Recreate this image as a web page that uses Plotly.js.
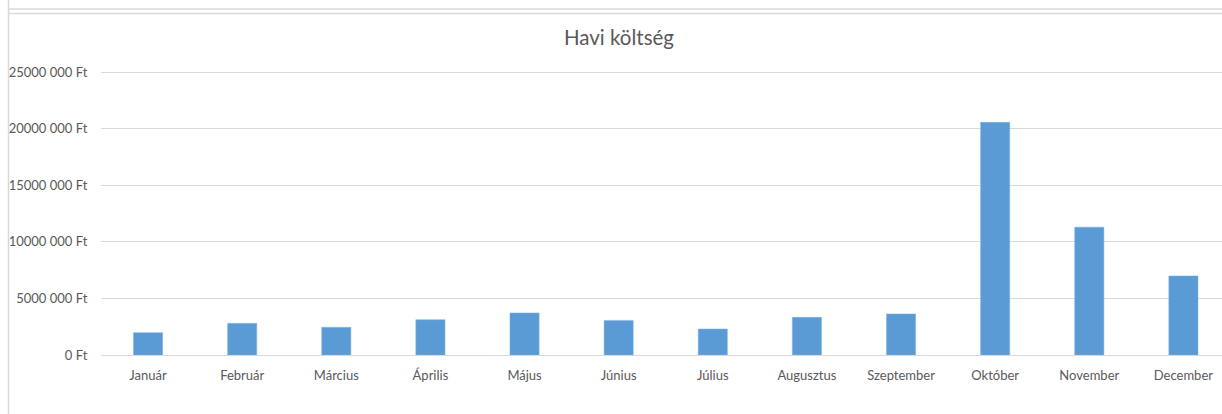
<!DOCTYPE html>
<html>
<head>
<meta charset="utf-8">
<script src="https://cdn.plot.ly/plotly-3.0.1.min.js"></script>
<style>
  html, body { margin: 0; padding: 0; background: #fff; }
  #chart { width: 1222px; height: 414px; }
</style>
</head>
<body>
<div id="chart"></div>
<script>
// Months and monthly cost (Ft)
var months = ['Január', 'Február', 'Március', 'Április', 'Május', 'Június',
              'Július', 'Augusztus', 'Szeptember', 'Október', 'November', 'December'];
var costs = [1970000, 2800000, 2450000, 3120000, 3720000, 3060000,
             2300000, 3330000, 3630000, 20560000, 11300000, 6990000];

// Y axis ticks, Excel style labels
var yTickVals = [0, 5000000, 10000000, 15000000, 20000000, 25000000];
var yTickText = ['0 Ft', '5000 000 Ft', '10000 000 Ft', '15000 000 Ft', '20000 000 Ft', '25000 000 Ft'];

var W = 1222, H = 414;
var mL = 101, mR = 0, mT = 71, mB = 59;
var plotW = W - mL - mR, plotH = H - mT - mB;

// helpers: pixel -> paper coords (for the frame lines only)
function px(x) { return (x - mL) / plotW; }
function py(y) { return (H - mB - y) / plotH; }

var frameColor = '#d9d9d9';

var data = [{
  type: 'bar',
  x: months,
  y: costs,
  width: 0.31,
  marker: { color: '#5b9bd5', line: { color: '#7fb2e0', width: 0.5 } },
  hoverinfo: 'x+y'
}];

var layout = {
  width: W,
  height: H,
  margin: { l: mL, r: mR, t: mT, b: mB, pad: 0 },
  paper_bgcolor: '#ffffff',
  plot_bgcolor: '#ffffff',
  font: { family: 'Lato, "Liberation Sans", sans-serif', size: 13, color: '#595959' },
  showlegend: false,
  title: {
    text: 'Havi költség',
    font: { size: 20.5, color: '#595959' },
    xref: 'container', x: 619 / W, xanchor: 'center',
    yref: 'container', y: 1 - 38 / H, yanchor: 'middle'
  },
  xaxis: {
    range: [-0.5, 11.41],
    showgrid: false,
    zeroline: false,
    showline: false,
    ticks: 'outside',
    ticklen: 8,
    tickcolor: 'rgba(0,0,0,0)',
    tickfont: { size: 13, color: '#595959' }
  },
  yaxis: {
    range: [0, 25100000],
    tickvals: yTickVals,
    ticktext: yTickText,
    showgrid: true,
    gridcolor: '#d9d9d9',
    gridwidth: 1,
    zeroline: true,
    zerolinecolor: '#d9d9d9',
    zerolinewidth: 1,
    showline: false,
    ticks: 'outside',
    ticklen: 10,
    tickcolor: 'rgba(0,0,0,0)',
    tickfont: { size: 13, color: '#595959' }
  },
  shapes: [
    // left border of the chart frame
    { type: 'line', xref: 'paper', yref: 'paper', x0: px(8.5), x1: px(8.5), y0: py(0), y1: py(H),
      line: { color: frameColor, width: 1.5 } },
    // bottom edge of the chart above
    { type: 'line', xref: 'paper', yref: 'paper', x0: px(8), x1: px(W), y0: py(9), y1: py(9),
      line: { color: frameColor, width: 1.5 } },
    // top edge of this chart
    { type: 'line', xref: 'paper', yref: 'paper', x0: px(8), x1: px(W), y0: py(13.5), y1: py(13.5),
      line: { color: frameColor, width: 1.5 } }
  ]
};

Plotly.newPlot('chart', data, layout, { displayModeBar: false, staticPlot: true });
</script>
</body>
</html>
